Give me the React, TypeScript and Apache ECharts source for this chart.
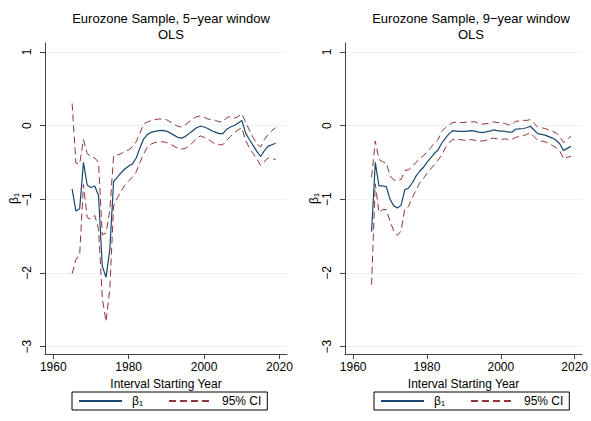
import React, { useEffect, useRef } from "react";
import * as echarts from "echarts";

const years = [
  1965, 1966, 1967, 1968, 1969, 1970, 1971, 1972, 1973, 1974, 1975, 1976, 1977, 1978,
  1979, 1980, 1981, 1982, 1983, 1984, 1985, 1986, 1987, 1988, 1989, 1990, 1991, 1992,
  1993, 1994, 1995, 1996, 1997, 1998, 1999, 2000, 2001, 2002, 2003, 2004, 2005, 2006,
  2007, 2008, 2009, 2010, 2011, 2012, 2013, 2014, 2015, 2016, 2017, 2018, 2019,
];

// 5-year window
const beta5 = [
  -0.86, -1.16, -1.13, -0.5, -0.81, -0.84, -0.82, -0.95, -1.91, -2.06, -1.68, -0.76, -0.7, -0.64,
  -0.59, -0.55, -0.52, -0.44, -0.3, -0.18, -0.12, -0.09, -0.08, -0.07, -0.065, -0.075, -0.1, -0.13,
  -0.16, -0.17, -0.15, -0.11, -0.07, -0.03, -0.01, -0.02, -0.04, -0.07, -0.09, -0.11, -0.11, -0.05,
  -0.02, 0.0, 0.03, 0.07, -0.1, -0.19, -0.27, -0.35, -0.42, -0.34, -0.28, -0.26, -0.24,
];
const upper5 = [
  0.3, -0.51, -0.52, -0.19, -0.38, -0.42, -0.44, -0.5, -1.48, -1.46, -1.15, -0.41, -0.4, -0.38,
  -0.35, -0.33, -0.29, -0.22, -0.1, 0.02, 0.05, 0.07, 0.08, 0.09, 0.085, 0.08, 0.05, 0.02,
  -0.01, -0.02, 0.01, 0.05, 0.09, 0.12, 0.13, 0.11, 0.09, 0.08, 0.07, 0.05, 0.05, 0.11,
  0.12, 0.1, 0.12, 0.16, 0.05, -0.06, -0.16, -0.25, -0.29, -0.19, -0.12, -0.07, -0.03,
];
const lower5 = [
  -2.01, -1.82, -1.75, -0.8, -1.25, -1.27, -1.22, -1.4, -2.34, -2.66, -2.21, -1.09, -0.98, -0.89,
  -0.81, -0.75, -0.7, -0.63, -0.5, -0.38, -0.29, -0.25, -0.23, -0.22, -0.22, -0.23, -0.25, -0.28,
  -0.31, -0.32, -0.31, -0.28, -0.23, -0.18, -0.14, -0.16, -0.18, -0.22, -0.25, -0.26, -0.26, -0.2,
  -0.15, -0.1, -0.06, -0.03, -0.2, -0.3, -0.38, -0.45, -0.54, -0.49, -0.44, -0.45, -0.46,
];

// 9-year window
const beta9 = [
  -1.44, -0.5, -0.82, -0.82, -0.83, -1.0, -1.09, -1.12, -1.08, -0.87, -0.85, -0.78, -0.69, -0.62,
  -0.57, -0.5, -0.44, -0.38, -0.33, -0.24, -0.17, -0.11, -0.07, -0.075, -0.08, -0.08, -0.075, -0.07,
  -0.075, -0.09, -0.095, -0.085, -0.075, -0.06, -0.07, -0.075, -0.077, -0.09, -0.09, -0.05, -0.045, -0.04,
  -0.03, -0.01, -0.06, -0.11, -0.12, -0.13, -0.15, -0.17, -0.2, -0.25, -0.34, -0.31, -0.28,
];
const upper9 = [
  -0.7, -0.21, -0.46, -0.49, -0.51, -0.68, -0.74, -0.75, -0.73, -0.61, -0.6, -0.56, -0.5, -0.45,
  -0.41, -0.36, -0.3, -0.24, -0.19, -0.08, -0.03, 0.01, 0.04, 0.045, 0.04, 0.04, 0.05, 0.05,
  0.05, 0.03, 0.02, 0.025, 0.03, 0.05, 0.04, 0.04, 0.03, 0.01, 0.01, 0.06, 0.06, 0.07,
  0.07, 0.08, 0.03, -0.02, -0.03, -0.04, -0.06, -0.08, -0.1, -0.15, -0.23, -0.19, -0.14,
];
const lower9 = [
  -2.16, -0.79, -1.18, -1.14, -1.14, -1.3, -1.43, -1.49, -1.43, -1.13, -1.1, -0.98, -0.88, -0.78,
  -0.72, -0.65, -0.59, -0.53, -0.47, -0.4, -0.3, -0.23, -0.19, -0.19, -0.19, -0.2, -0.2, -0.19,
  -0.2, -0.21, -0.21, -0.2, -0.18, -0.17, -0.18, -0.19, -0.18, -0.19, -0.19, -0.16, -0.15, -0.14,
  -0.12, -0.1, -0.15, -0.2, -0.21, -0.22, -0.24, -0.27, -0.3, -0.35, -0.45, -0.43, -0.42,
];

const xTicks = [1960, 1980, 2000, 2020];
const yTicks = [-3, -2, -1, 0, 1];
const panelTitles = [
  "Eurozone Sample, 5\u2212year window\nOLS",
  "Eurozone Sample, 9\u2212year window\nOLS",
];
const xTitle = "Interval Starting Year";
const yTitle = "\u03b2\u2081";
const betaName = "\u03b2\u2081";
const ciName = "95% CI";

const FONT = '"Liberation Sans", Arial, Helvetica, sans-serif';
const NAVY = "#1a476f";
const MAROON = "#90353b";
const AXIS = "#444444";

const pair = (vals: number[]) => years.map((y, i) => [y, vals[i]]);
const fmtY = (v: number) => (v < 0 ? "\u2212" + Math.abs(v) : String(v));
const fmtX = (v: number) => String(Math.round(v));

export default function App() {
  const ref = useRef<HTMLDivElement>(null);

  useEffect(() => {
    if (!ref.current) return;
    const chart = echarts.init(ref.current, undefined, { renderer: "svg" });

    const gridLefts = [45, 345];
    const panels = [
      { beta: beta5, up: upper5, lo: lower5 },
      { beta: beta9, up: upper9, lo: lower9 },
    ];

    const series: any[] = [];
    panels.forEach((p, i) => {
      series.push({
        type: "line",
        name: betaName,
        xAxisIndex: i,
        yAxisIndex: i,
        data: pair(p.beta),
        symbol: "none",
        showSymbol: false,
        z: 3,
        lineStyle: { color: NAVY, width: 1.2 },
        itemStyle: { color: NAVY },
      });
      series.push({
        type: "line",
        name: ciName,
        xAxisIndex: i,
        yAxisIndex: i,
        data: pair(p.up),
        symbol: "none",
        showSymbol: false,
        z: 2,
        lineStyle: { color: MAROON, width: 1, type: [7, 4] },
        itemStyle: { color: MAROON },
      });
      series.push({
        type: "line",
        name: ciName,
        xAxisIndex: i,
        yAxisIndex: i,
        data: pair(p.lo),
        symbol: "none",
        showSymbol: false,
        z: 2,
        lineStyle: { color: MAROON, width: 1, type: [7, 4] },
        itemStyle: { color: MAROON },
      });
    });

    const option: any = {
      animation: false,
      backgroundColor: "#ffffff",
      textStyle: { fontFamily: FONT },
      title: panelTitles.map((t, i) => ({
        text: t,
        left: gridLefts[i] + 121,
        top: 5,
        textAlign: "center",
        textStyle: {
          fontSize: 13,
          fontWeight: "normal",
          color: "#000",
          lineHeight: 16,
          fontFamily: FONT,
        },
      })),
      legend: [72, 374].map((l) => ({
        left: l,
        top: 392,
        orient: "horizontal",
        data: [betaName, ciName],
        itemWidth: 43,
        itemHeight: 14,
        itemGap: 25,
        padding: [3, 6, 3, 6],
        borderColor: "#000",
        borderWidth: 1,
        borderRadius: 0,
        selectedMode: false,
        itemStyle: { opacity: 0 },
        textStyle: { fontSize: 12, color: "#000", fontFamily: FONT, padding: [0, 0, 0, 5] },
      })),
      grid: gridLefts.map((l) => ({ left: l, top: 43, width: 242, height: 311 })),
      xAxis: gridLefts.map((_, i) => ({
        gridIndex: i,
        type: "value",
        min: 1957.8,
        max: 2022,
        name: xTitle,
        nameLocation: "middle",
        nameGap: 19,
        nameTextStyle: { fontSize: 12, color: "#000", fontFamily: FONT },
        axisLine: { show: true, onZero: false, lineStyle: { color: AXIS, width: 1 } },
        axisTick: { show: true, length: 5, customValues: xTicks, lineStyle: { color: AXIS } },
        axisLabel: {
          customValues: xTicks,
          fontSize: 12,
          color: "#000",
          margin: 7,
          fontFamily: FONT,
          formatter: fmtX,
        },
        splitLine: { show: false },
      })),
      yAxis: gridLefts.map((_, i) => ({
        gridIndex: i,
        type: "value",
        min: -3.1,
        max: 1.12,
        name: yTitle,
        nameLocation: "middle",
        nameGap: 22,
        nameRotate: 90,
        nameTextStyle: { fontSize: 12, color: "#000", fontFamily: FONT },
        axisLine: { show: true, onZero: false, lineStyle: { color: AXIS, width: 1 } },
        axisTick: { show: true, length: 5, customValues: yTicks, lineStyle: { color: AXIS } },
        axisLabel: {
          customValues: yTicks,
          rotate: 90,
          fontSize: 12,
          color: "#000",
          margin: 12,
          fontFamily: FONT,
          formatter: fmtY,
        },
        splitLine: { show: true, lineStyle: { color: "#eaf2f3", width: 1 } },
      })),
      series,
    };

    chart.setOption(option);
    return () => chart.dispose();
  }, []);

  return (
    <div
      ref={ref}
      style={{ position: "fixed", left: 0, top: 0, width: 591, height: 421, background: "#fff" }}
    />
  );
}
